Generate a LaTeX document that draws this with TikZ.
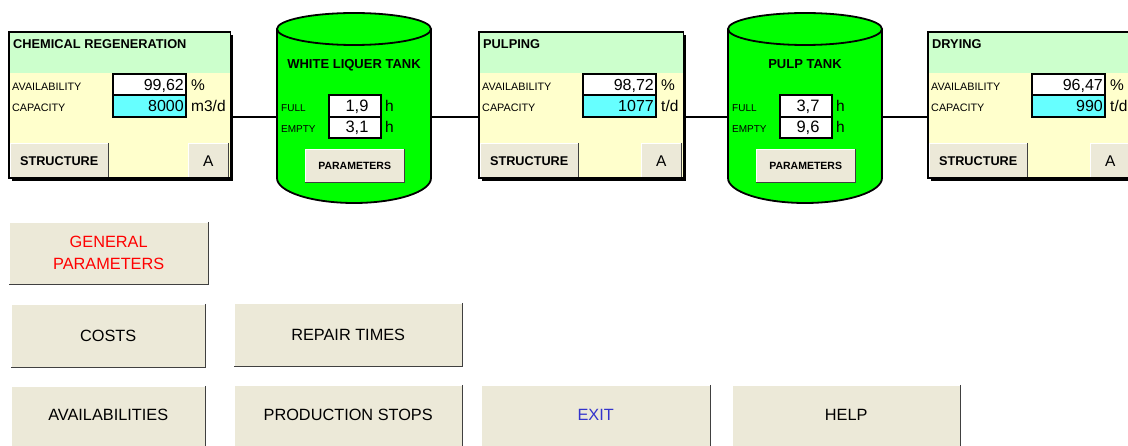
\documentclass[tikz,border=0pt]{standalone}
\usepackage{fontspec}
\setmainfont{Liberation Sans}
\usetikzlibrary{calc}

\definecolor{hdrgreen}{HTML}{CCFFCC}
\definecolor{bodyyellow}{HTML}{FFFFCC}
\definecolor{capcyan}{HTML}{66FFFF}
\definecolor{tankgreen}{HTML}{00FF00}
\definecolor{btnface}{HTML}{ECE9D8}
\definecolor{btndark}{HTML}{404040}
\definecolor{exitblue}{HTML}{3333CC}
\definecolor{alertred}{HTML}{FF0000}

\tikzset{
  hdrtext/.style={font=\fontsize{12.8}{14}\selectfont\bfseries, anchor=base west, inner sep=0pt},
  tanktitle/.style={font=\fontsize{13}{15}\selectfont\bfseries, anchor=base, inner sep=0pt},
  smalllabel/.style={font=\fontsize{10.8}{12}\selectfont, anchor=base west, inner sep=0pt},
  tanklabel/.style={font=\fontsize{10}{12}\selectfont, anchor=base west, inner sep=0pt},
  valtext/.style={font=\fontsize{16}{18}\selectfont, anchor=base east, inner sep=0pt},
  tankval/.style={font=\fontsize{16.5}{18}\selectfont, anchor=base, inner sep=0pt},
  unittext/.style={font=\fontsize{15.5}{17}\selectfont, anchor=base west, inner sep=0pt},
  field/.style={draw=black, line width=1.6pt},
  outline/.style={draw=black, line width=1.8pt},
  flowline/.style={draw=black, line width=1.2pt},
  btnbox/.style={fill=btnface, draw=none, inner sep=0pt, anchor=north west},
  btnbold/.style={font=\fontsize{12.7}{14}\selectfont\bfseries, inner sep=0pt},
  btnsmall/.style={font=\fontsize{10.5}{12}\selectfont\bfseries, inner sep=0pt},
  btnletter/.style={font=\fontsize{15.5}{17}\selectfont, inner sep=0pt},
  btnlarge/.style={font=\fontsize{16.3}{22}\selectfont, inner sep=0pt, align=center},
}

% raised push button: name, x1, y1, x2, y2, text style, caption
\newcommand{\uibutton}[7]{%
  \node[btnbox, minimum width={((#4)-(#2))*1pt}, minimum height={((#5)-(#3))*1pt}] (#1) at (#2,#3) {};
  \draw[white, line width=0.8pt] (#1.south west) -- (#1.north west) -- (#1.north east);
  \draw[btndark, line width=1.4pt] (#1.north east) -- (#1.south east) -- (#1.south west);
  \node[#6] at (#1.center) {#7};
}

% process unit panel: name, left x, width, title, availability, capacity, unit
\newcommand{\procunit}[7]{%
  \fill[black] (#2+3,35) rectangle (#2+#3+3,181);
  \node[inner sep=0pt, anchor=north west, minimum width={#3*1pt}, minimum height=146pt,
        fill=bodyyellow] (#1) at (#2,32) {};
  \fill[hdrgreen] (#2,32) rectangle (#2+#3,73);
  \node[hdrtext] at (#2+4,49) {#4};
  \node[smalllabel] at (#2+3,91) {AVAILABILITY};
  \node[smalllabel] at (#2+3,112) {CAPACITY};
  \draw[field, fill=white] (#2+104,74) rectangle (#2+177,95);
  \draw[field, fill=capcyan] (#2+104,95) rectangle (#2+177,117);
  \node[valtext] at (#2+175,91) {#5};
  \node[valtext] at (#2+175,112) {#6};
  \node[unittext] at (#2+182,91) {\%};
  \node[unittext] at (#2+182,112) {#7};
  \uibutton{#1-str}{#2+1}{143}{#2+99}{178}{btnbold}{STRUCTURE}
  \uibutton{#1-a}{#2+#3-42}{143}{#2+#3-2}{178}{btnletter}{A}
  \draw[outline] (#1.north west) rectangle (#1.south east);
}

% storage tank: name, centre x, title, time to full, time to empty
\newcommand{\tankunit}[5]{%
  \node[inner sep=0pt, minimum width=154pt, minimum height=174pt] (#1) at (#2,116) {};
  \fill[tankgreen] (#2-77,29) -- (#2-77,178)
    .. controls (#2-77,191.8) and (#2-42.5,203) .. (#2,203)
    .. controls (#2+42.5,203) and (#2+77,191.8) .. (#2+77,178) -- (#2+77,29) -- cycle;
  \draw[outline] (#2-77,29) -- (#2-77,178)
    .. controls (#2-77,191.8) and (#2-42.5,203) .. (#2,203)
    .. controls (#2+42.5,203) and (#2+77,191.8) .. (#2+77,178) -- (#2+77,29);
  \draw[outline, fill=tankgreen] (#2,29) ellipse [x radius=77, y radius=16];
  \node[tanktitle] at (#2,69) {#3};
  \node[tanklabel] at (#2-73,112) {FULL};
  \node[tanklabel] at (#2-73,133) {EMPTY};
  \draw[field, fill=white] (#2-25,95) rectangle (#2+27,117);
  \draw[field, fill=white] (#2-25,117) rectangle (#2+27,138);
  \node[tankval] at (#2+3,112) {#4};
  \node[tankval] at (#2+3,133) {#5};
  \node[unittext] at (#2+31,112) {h};
  \node[unittext] at (#2+31,133) {h};
  \uibutton{#1-par}{#2-49}{149}{#2+50}{182}{btnsmall}{PARAMETERS}
}

\begin{document}
\begin{tikzpicture}[x=1pt, y=-1pt]
  \useasboundingbox (0,0) rectangle (1128,446);
  \clip (0,0) rectangle (1128,446);
  \fill[white] (0,0) rectangle (1128,446);

  % process chain
  \procunit{chem}{9}{221}{CHEMICAL REGENERATION}{99,62}{8000}{m3/d}
  \tankunit{wlt}{354}{WHITE LIQUER TANK}{1,9}{3,1}
  \procunit{pulp}{479}{204}{PULPING}{98,72}{1077}{t/d}
  \tankunit{ptank}{805}{PULP TANK}{3,7}{9,6}
  \procunit{dry}{928}{204}{DRYING}{96,47}{990}{t/d}

  \coordinate (flow) at (0,117);
  \draw[flowline] (chem.east |- flow) -- (wlt.west |- flow);
  \draw[flowline] (wlt.east |- flow) -- (pulp.west |- flow);
  \draw[flowline] (pulp.east |- flow) -- (ptank.west |- flow);
  \draw[flowline] (ptank.east |- flow) -- (dry.west |- flow);

  % menu buttons (bottom row runs past the lower edge)
  \uibutton{genpar}{9}{222}{208}{284}{btnlarge, text=alertred}{GENERAL\\PARAMETERS}
  \uibutton{costs}{11}{304}{205}{367}{btnlarge}{COSTS}
  \uibutton{repair}{234}{303}{462}{366}{btnlarge}{REPAIR TIMES}
  \uibutton{avail}{11}{386}{205}{452}{btnlarge, yshift=4pt}{AVAILABILITIES}
  \uibutton{stops}{234}{385}{462}{452}{btnlarge, yshift=4pt}{PRODUCTION STOPS}
  \uibutton{exit}{481}{385}{710}{452}{btnlarge, yshift=4pt, text=exitblue}{EXIT}
  \uibutton{help}{732}{385}{960}{452}{btnlarge, yshift=4pt}{HELP}
\end{tikzpicture}
\end{document}
